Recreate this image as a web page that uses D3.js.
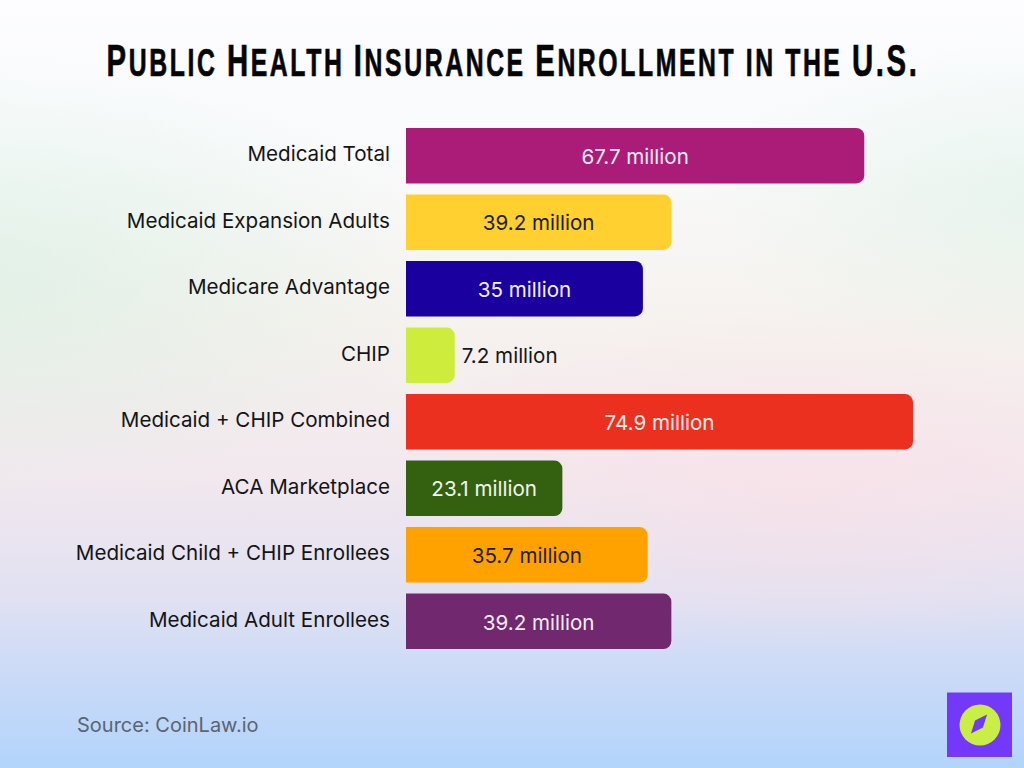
<!DOCTYPE html>
<html>
<head>
<meta charset="utf-8">
<script src="https://cdn.jsdelivr.net/npm/d3@7/dist/d3.min.js"></script>
<style>
  html, body { margin: 0; padding: 0; background: #fff; }
  svg { display: block; }
</style>
</head>
<body>
<div id="chart"></div>
<script>
// Enrollment figures, in millions
const categories = ["Medicaid Total", "Medicaid Expansion Adults", "Medicare Advantage", "CHIP",
  "Medicaid + CHIP Combined", "ACA Marketplace", "Medicaid Child + CHIP Enrollees", "Medicaid Adult Enrollees"];
const values = [67.7, 39.2, 35, 7.2, 74.9, 23.1, 35.7, 39.2];
const barColors = ["#ab1c78", "#ffd02f", "#1a009f", "#cdec3c", "#ec3020", "#33610f", "#ffa200", "#71286e"];
const valueColors = ["#f6ecf3", "#1c1c1c", "#f4f2fa", "#161616", "#fdeeea", "#f3f5ee", "#1c1c1c", "#f5ecf4"];
const titleText = "Public Health Insurance Enrollment in the U.S.";
const sourceText = "Source: CoinLaw.io";

const W = 1024, H = 768;
const labelFont = "Inter, 'Noto Sans', sans-serif";

const svg = d3.select("#chart").append("svg").attr("width", W).attr("height", H);
const defs = svg.append("defs");

// Soft page wash: a vertical base with coloured glows laid over it
const base = defs.append("linearGradient").attr("id", "wash").attr("x1", 0).attr("x2", 0).attr("y1", 0).attr("y2", 1);
[[0, "#fdfdff"], [0.2, "#f9fafb"], [0.42, "#f6f2ee"], [0.62, "#f2e8ee"], [0.78, "#e1e1f2"], [0.9, "#c6d9f8"], [1, "#b2d4fb"]]
  .forEach(([o, c]) => base.append("stop").attr("offset", o).attr("stop-color", c));

function glow(id, color, alpha) {
  const g = defs.append("radialGradient").attr("id", id);
  g.append("stop").attr("offset", 0).attr("stop-color", color).attr("stop-opacity", alpha);
  g.append("stop").attr("offset", 1).attr("stop-color", color).attr("stop-opacity", 0);
}
glow("glowGreen", "#cfeedd", 0.55);
glow("glowPink", "#fbdfe6", 0.6);
glow("glowMint", "#d4efe0", 0.45);

svg.append("rect").attr("width", W).attr("height", H).attr("fill", "url(#wash)");
[["glowGreen", -40, 280, 480, 230], ["glowMint", 1040, 200, 340, 170], ["glowPink", 800, 480, 420, 170]]
  .forEach(([id, cx, cy, rx, ry]) => svg.append("ellipse")
    .attr("cx", cx).attr("cy", cy).attr("rx", rx).attr("ry", ry).attr("fill", `url(#${id})`));

// Scales
const x = d3.scaleLinear().domain([0, 74.9]).range([406, 913]);
const y = d3.scaleBand().domain(categories).range([128, 649]).paddingInner(0.167);

// Bars, square on the left and rounded on the right
function barPath(d, i) {
  const x0 = x(0), x1 = x(values[i]), y0 = y(d), y1 = y0 + y.bandwidth(), r = 8;
  const p = d3.path();
  p.moveTo(x0, y0);
  p.lineTo(x1 - r, y0);
  p.arcTo(x1, y0, x1, y0 + r, r);
  p.lineTo(x1, y1 - r);
  p.arcTo(x1, y1, x1 - r, y1, r);
  p.lineTo(x0, y1);
  p.closePath();
  return p.toString();
}
svg.append("g").selectAll("path").data(categories).join("path")
  .attr("d", barPath)
  .attr("fill", (d, i) => barColors[i]);

// Category axis
const axis = svg.append("g")
  .attr("transform", `translate(${x(0) - 16},-1)`)
  .call(d3.axisLeft(y).tickSize(0).tickPadding(0));
axis.select(".domain").remove();
axis.selectAll("text")
  .attr("font-family", labelFont).attr("font-size", 20.6).attr("fill", "#141414");

// Value labels; the short CHIP bar keeps its label outside
svg.append("g").selectAll("text").data(categories).join("text")
  .attr("x", (d, i) => values[i] < 10 ? x(values[i]) + 7 : (x(0) + x(values[i])) / 2)
  .attr("y", d => y(d) + y.bandwidth() / 2 + 1)
  .attr("dy", "0.35em")
  .attr("text-anchor", (d, i) => values[i] < 10 ? "start" : "middle")
  .attr("font-family", labelFont).attr("font-size", 20.6)
  .attr("fill", (d, i) => valueColors[i])
  .text((d, i) => `${values[i]} million`);

// Title in condensed small caps, squeezed horizontally to its measured width
const titleWidth = 813, titleCenter = 513;
const titleGroup = svg.append("g");
const title = titleGroup.append("text")
  .attr("y", 76).attr("text-anchor", "middle")
  .attr("font-family", "'Liberation Sans', sans-serif")
  .attr("font-weight", 700).attr("fill", "#050505")
  .attr("stroke", "#050505").attr("stroke-width", 0.7)
  .attr("letter-spacing", 4);
title.selectAll("tspan")
  .data(Array.from(titleText.matchAll(/[A-Z.]+|[^A-Z.]+/g), m => m[0]))
  .join("tspan")
  .attr("font-size", d => /[A-Z.]/.test(d[0]) ? 45 : 38)
  .text(d => d.toUpperCase());
const squeeze = titleWidth / title.node().getComputedTextLength();
titleGroup.attr("transform", `translate(${titleCenter},0) scale(${squeeze},1)`);

// Source line
svg.append("text")
  .attr("x", 77).attr("y", 732)
  .attr("font-family", labelFont).attr("font-size", 20).attr("fill", "#5c6470")
  .text(sourceText);

// Brand mark
const logo = svg.append("g").attr("transform", "translate(947,692.5)");
logo.append("rect").attr("width", 65).attr("height", 64.5).attr("fill", "#7438fb");
logo.append("circle").attr("cx", 33).attr("cy", 32.5).attr("r", 20.5).attr("fill", "#c9ee45");
logo.append("path").attr("d", "M40 22 L36 35 L24 41 L28 28 Z").attr("fill", "#7438fb");
</script>
</body>
</html>
